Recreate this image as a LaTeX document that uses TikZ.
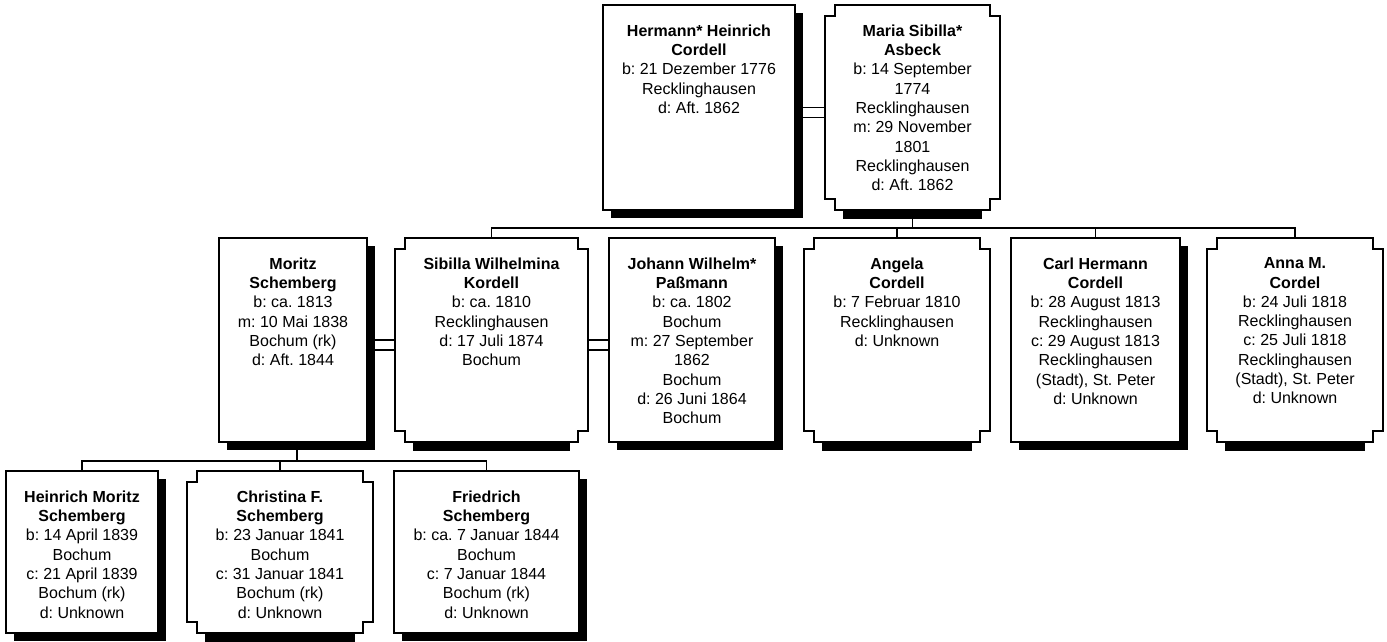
\documentclass[tikz,border=0pt]{standalone}
\usepackage{fontspec}
\setmainfont{Liberation Sans}
\frenchspacing
\tikzset{
  conn/.style={line width=1.4pt},
  boxline/.style={line width=1.5pt},
  pframe/.style={inner sep=0pt, outer sep=0pt, anchor=north west},
  ptext/.style={anchor=north, align=center, inner sep=0pt, font=\fontsize{16}{19.3}\selectfont\frenchspacing},
}
% male box: name, left, top, right, bottom, text
\newcommand\PersonM[6]{%
  \fill[black] (#2+8,#3+8) rectangle (#4+8,#5+8);
  \node[pframe, boxline, draw, fill=white, minimum width={(#4-#2)*1pt}, minimum height={(#5-#3)*1pt}] (#1) at (#2,#3) {};
  \node[ptext] (#1-t) at ([yshift=-19.5pt]#1.north) {#6};}
% female box with notched corners
\newcommand\PersonF[6]{%
  \fill[black] (#2+18,#5) rectangle (#4-18,#5+9);
  \node[pframe, minimum width={(#4-#2)*1pt}, minimum height={(#5-#3)*1pt}] (#1) at (#2,#3) {};
  \draw[boxline, fill=white, line join=miter] (#2,#3+11) -- (#2+10,#3+11) -- (#2+10,#3) -- (#4-10,#3) -- (#4-10,#3+11) -- (#4,#3+11) -- (#4,#5-11) -- (#4-10,#5-11) -- (#4-10,#5) -- (#2+10,#5) -- (#2+10,#5-11) -- (#2,#5-11) -- cycle;
  \node[ptext] (#1-t) at ([yshift=-19.5pt]#1.north) {#6};}
\begin{document}
\begin{tikzpicture}[x=1pt,y=-1pt]
\useasboundingbox (0,0) rectangle (1387,642);
\fill[white] (0,0) rectangle (1387,642);

% row 1
\PersonM{hermann}{603}{5}{795}{210}{\textbf{Hermann* Heinrich}\\\textbf{Cordell}\\b: 21 Dezember 1776\\Recklinghausen\\d: Aft. 1862}
\PersonF{maria}{825}{5}{1000}{210}{\textbf{Maria Sibilla*}\\\textbf{Asbeck}\\b: 14 September\\1774\\Recklinghausen\\m: 29 November\\1801\\Recklinghausen\\d: Aft. 1862}

% row 2
\PersonM{moritz}{219}{238}{367}{442}{\textbf{Moritz}\\\textbf{Schemberg}\\b: ca. 1813\\m: 10 Mai 1838\\Bochum (rk)\\d: Aft. 1844}
\PersonF{sibilla}{395}{238}{588}{442}{\textbf{Sibilla Wilhelmina}\\\textbf{Kordell}\\b: ca. 1810\\Recklinghausen\\d: 17 Juli 1874\\Bochum}
\PersonM{johann}{609}{238}{775}{442}{\textbf{Johann Wilhelm*}\\\textbf{Paßmann}\\b: ca. 1802\\Bochum\\m: 27 September\\1862\\Bochum\\d: 26 Juni 1864\\Bochum}
\PersonF{angela}{804}{238}{990}{442}{\textbf{Angela}\\\textbf{Cordell}\\b: 7 Februar 1810\\Recklinghausen\\d: Unknown}
\PersonM{carl}{1011}{238}{1180}{442}{\textbf{Carl Hermann}\\\textbf{Cordell}\\b: 28 August 1813\\Recklinghausen\\c: 29 August 1813\\Recklinghausen\\(Stadt), St. Peter\\d: Unknown}
\PersonF{anna}{1207}{238}{1383}{442}{\textbf{Anna M.}\\\textbf{Cordel}\\b: 24 Juli 1818\\Recklinghausen\\c: 25 Juli 1818\\Recklinghausen\\(Stadt), St. Peter\\d: Unknown}

% row 3
\PersonM{heinrich}{6}{471}{158}{633}{\textbf{Heinrich Moritz}\\\textbf{Schemberg}\\b: 14 April 1839\\Bochum\\c: 21 April 1839\\Bochum (rk)\\d: Unknown}
\PersonF{christina}{187}{471}{373}{633}{\textbf{Christina F.}\\\textbf{Schemberg}\\b: 23 Januar 1841\\Bochum\\c: 31 Januar 1841\\Bochum (rk)\\d: Unknown}
\PersonM{friedrich}{394}{471}{579}{633}{\textbf{Friedrich}\\\textbf{Schemberg}\\b: ca. 7 Januar 1844\\Bochum\\c: 7 Januar 1844\\Bochum (rk)\\d: Unknown}

% couple links (double lines)
\coordinate (hA) at ([xshift=8pt]hermann.east);
\coordinate (hB) at ([xshift=8pt,yshift=-10pt]hermann.east);
\draw[conn] (hA) -- (hA -| maria.west);
\draw[conn] (hB) -- (hB -| maria.west);
\coordinate (mA) at ([xshift=8pt]moritz.east);
\coordinate (mB) at ([xshift=8pt,yshift=-10pt]moritz.east);
\draw[conn] (mA) -- (mA -| sibilla.west);
\draw[conn] (mB) -- (mB -| sibilla.west);
\coordinate (sA) at (sibilla.east);
\coordinate (sB) at ([yshift=-10pt]sibilla.east);
\draw[conn] (sA) -- (sA -| johann.west);
\draw[conn] (sB) -- (sB -| johann.west);

% children of Hermann & Maria
\coordinate (busA) at (0,228);
\coordinate (mdA) at ([yshift=-9pt]maria.south);
\draw[conn] (mdA) -- (mdA |- busA);
\draw[conn] (sibilla.north) -- (sibilla.north |- busA) -- (anna.north |- busA) -- (anna.north);
\draw[conn] (angela.north |- busA) -- (angela.north);
\draw[conn] (carl.north |- busA) -- (carl.north);

% children of Moritz & Sibilla
\coordinate (busB) at (0,461);
\coordinate (mdB) at ([xshift=4pt,yshift=-8pt]moritz.south);
\draw[conn] (mdB) -- (mdB |- busB);
\draw[conn] (heinrich.north) -- (heinrich.north |- busB) -- (friedrich.north |- busB) -- (friedrich.north);
\draw[conn] (christina.north |- busB) -- (christina.north);
\end{tikzpicture}
\end{document}
